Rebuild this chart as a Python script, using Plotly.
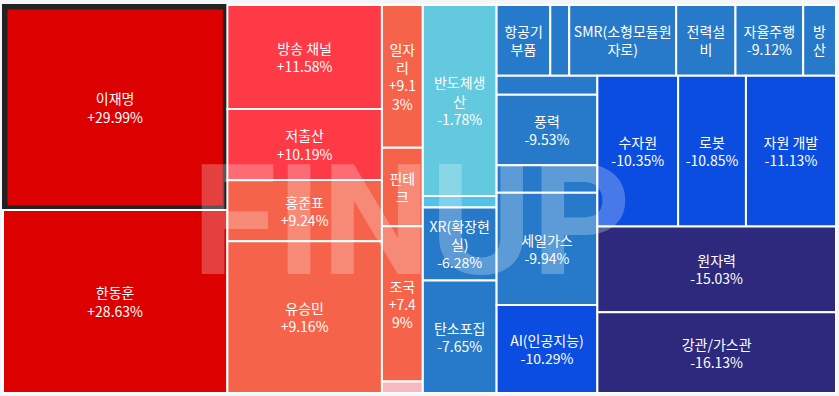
import plotly.graph_objects as go

# ---- data ----
labels = ["이재명", "한동훈", "방송 채널", "저출산", "홍준표", "유승민", "일자리", "핀테크", "조국", "",
          "반도체생산", "", "XR(확장현실)", "탄소포집", "항공기부품", "", "SMR(소형모듈원자로)", "전력설비", "자율주행", "방산",
          "", "풍력", "", "세일가스", "AI(인공지능)", "수자원", "로봇", "자원 개발", "원자력", "강관/가스관"]
changes = [29.99, 28.63, 11.58, 10.19, 9.24, 9.16, 9.13, 8.30, 7.49, 2.10,
           -1.78, -4.20, -6.28, -7.65, -8.00, -8.30, -8.60, -8.90, -9.12, -9.30,
           -9.40, -9.53, -9.80, -9.94, -10.29, -10.35, -10.85, -11.13, -15.03, -16.13]
weights = [463.5, 414.0, 162.0, 110.8, 95.3, 236.4, 58.8, 32.4, 64.0, 4.7,
           142.1, 8.5, 54.4, 83.6, 38.3, 13.5, 76.3, 42.3, 48.3, 23.4,
           19.2, 71.7, 27.8, 114.1, 89.4, 122.7, 103.0, 136.8, 206.4, 194.2]
# label wrapping as it appears in narrow cells (overflowing lines are cut in the original)
wrapped = {
    "일자리": "일자<br>리<br>+9.1<br>3%",
    "핀테크": "핀테<br>크",
    "조국": "조국<br>+7.4<br>9%",
    "반도체생산": "반도체생<br>산<br>-1.78%",
    "XR(확장현실)": "XR(확장현<br>실)<br>-6.28%",
    "항공기부품": "항공기<br>부품",
    "SMR(소형모듈원자로)": "SMR(소형모듈원<br>자로)",
    "전력설비": "전력설<br>비",
    "방산": "방<br>산",
}
highlight = "이재명"   # selected item, drawn with a dark frame


def bucket_color(v):
    if v >= 20:
        return "#dc0000"
    if v >= 10:
        return "#fd3a46"
    if v >= 5:
        return "#f5634a"
    if v >= 0:
        return "#f8b8c1"
    if v >= -3:
        return "#62c9df"
    if v >= -5:
        return "#52c2e8"
    if v >= -10:
        return "#267ac9"
    if v >= -15:
        return "#0b4de0"
    return "#2d297d"


def cell_text(lab, ch):
    if lab == "":
        return " "
    if lab in wrapped:
        return wrapped[lab]
    return f"{lab}<br>{ch:+.2f}%"


ids, lbls, parents, values, texts, colors, cdata = [], [], [], [], [], [], []
line_w, line_c = [], []
for i, (lab, ch, w) in enumerate(zip(labels, changes, weights)):
    if lab == highlight:
        # dark frame (parent, no label) holding the cell itself
        ids.append("frame"); lbls.append(""); parents.append(""); values.append(0)
        texts.append(" "); colors.append("#222222"); cdata.append(ch)
        line_w.append(2); line_c.append("#222222")
        ids.append(f"n{i}"); lbls.append(lab); parents.append("frame"); values.append(w)
        line_w.append(3); line_c.append("#222222")
    else:
        ids.append(f"n{i}"); lbls.append(lab); parents.append(""); values.append(w)
        line_w.append(2); line_c.append("#ffffff")
    texts.append(cell_text(lab, ch)); colors.append(bucket_color(ch)); cdata.append(ch)

fig = go.Figure(go.Treemap(
    ids=ids,
    labels=lbls,
    parents=parents,
    values=values,
    text=texts,
    customdata=cdata,
    texttemplate="%{text}",
    hovertemplate="%{label}: %{customdata:+.2f}%<extra></extra>",
    sort=False,
    tiling=dict(packing="squarify", squarifyratio=1.618034, pad=0),
    marker=dict(colors=colors, line=dict(width=line_w, color=line_c),
                pad=dict(t=3, l=3, r=3, b=3)),
    pathbar=dict(visible=False),
    textposition="middle center",
    textfont=dict(family="Noto Sans CJK KR", size=14, color="white"),
    insidetextfont=dict(family="Noto Sans CJK KR", size=14, color="white"),
))

fig.add_annotation(
    text="FINUP", xref="paper", yref="paper", x=0.49, y=0.443,
    xanchor="center", yanchor="middle", showarrow=False,
    font=dict(family="Liberation Sans Narrow, Roboto", size=154, color="rgba(255,255,255,0.25)", weight="bold"),
)

fig.update_layout(
    width=839, height=396,
    margin=dict(l=0, r=0, t=2, b=0),
    paper_bgcolor="#f3f5f9",
    uniformtext=dict(minsize=14, mode="show"),
    showlegend=False,
)

fig.write_html("out.html", config={"displayModeBar": False},
               post_script="document.body.style.margin='0';")
